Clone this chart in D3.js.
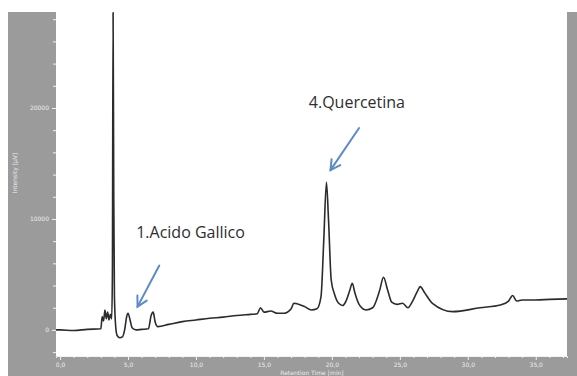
<!DOCTYPE html>
<html>
<head>
<meta charset="utf-8">
<script src="https://cdn.jsdelivr.net/npm/d3@7"></script>
<style>
  body { margin: 0; background: #fff; }
  svg { display: block; }
  .tick text { fill: #ececec; font-family: "DejaVu Sans", sans-serif; }
</style>
</head>
<body>
<svg id="chart" width="577" height="376"></svg>
<script>
// Chromatogram trace: retention time (min) and intensity (µV)
const times = [-0.3, 0, 1, 2, 3, 3.1, 3.2, 3.3, 3.4, 3.5, 3.6, 3.7, 3.8, 3.85, 3.9, 3.95, 4.0, 4.1, 4.2, 4.4, 4.6, 4.75,
    4.9, 5.0, 5.15, 5.3, 5.6, 6.0, 6.5, 6.7, 6.85, 7.0, 7.2, 8, 9, 10, 11, 12, 13, 14, 14.5, 14.75, 15, 15.5, 16,
    16.5, 17, 17.2, 17.6, 18.0, 18.5, 18.9, 19.2, 19.4, 19.6, 19.75, 19.95, 20.2, 20.5, 20.8, 21.0, 21.3, 21.5,
    21.7, 22.0, 22.5, 23.0, 23.5, 23.8, 24.1, 24.4, 24.8, 25.2, 25.6, 25.9, 26.3, 26.5, 26.8, 27.4, 28.9, 30.9,
    32.4, 33.0, 33.3, 33.6, 34.0, 35, 36, 37.3];
const intensity = [0, 0, -50, 50, 100, 1200, 800, 1800, 1000, 1600, 900, 1400, 1000, 5000, 28600, 12000, 3000, 200,
    -500, -700, -600, 0, 1200, 1500, 900, 200, 0, 50, 100, 1300, 1600, 700, 300, 500, 750, 900, 1050, 1150, 1300,
    1400, 1450, 2000, 1600, 1700, 1500, 1500, 1900, 2400, 2300, 2100, 1800, 1900, 3000, 8000, 13300, 10000, 4500,
    3200, 2400, 2200, 2500, 3500, 4200, 3300, 2300, 1800, 2000, 3500, 4750, 3600, 2500, 2300, 2400, 2000, 2500,
    3500, 3900, 3400, 2400, 1650, 2000, 2250, 2600, 3100, 2600, 2700, 2700, 2750, 2800];

const xMajor = [0, 5, 10, 15, 20, 25, 30, 35];
const yMajor = [0, 10000, 20000];

// Peak annotations: label and the point the arrow tip marks
const labels = ['1.Acido Gallico', '4.Quercetina'];
const labelTime = [5.6, 18.3];
const labelValue = [8300, 20000];
const arrowFrom = [[7.3, 5800], [22.0, 18200]];
const arrowTo = [[5.7, 2100], [19.9, 14400]];

const data = times.map((t, i) => ({ t, v: intensity[i] }));

const svg = d3.select('#chart');
const margin = { left: 56, top: 12, right: 10, bottom: 20 };
const W = 577, H = 376;

const x = d3.scaleLinear().domain([-0.3, 37.3]).range([margin.left, W - margin.right]);
const y = d3.scaleLinear().domain([-2350, 28650]).range([H - margin.bottom, margin.top]);

// Grey frame and white plot area
svg.append('rect').attr('x', 8).attr('y', 12).attr('width', W - 8).attr('height', H - 12).attr('fill', '#9b9b9b');
svg.append('rect').attr('x', margin.left).attr('y', margin.top)
    .attr('width', W - margin.right - margin.left).attr('height', H - margin.bottom - margin.top)
    .attr('fill', '#fff');

// Axes
const yMinor = d3.range(-2000, 28001, 2000).filter(v => !yMajor.includes(v));
svg.append('g').attr('transform', `translate(${margin.left},0)`)
    .call(d3.axisLeft(y).tickValues(yMinor).tickSize(3).tickFormat(''))
    .call(g => g.select('.domain').remove())
    .call(g => g.selectAll('line').attr('stroke', '#f2f2f2'));
svg.append('g').attr('transform', `translate(${margin.left},0)`)
    .call(d3.axisLeft(y).tickValues(yMajor).tickSize(4).tickPadding(3).tickFormat(d3.format('d')))
    .call(g => g.select('.domain').remove())
    .call(g => g.selectAll('line').attr('stroke', '#f2f2f2'))
    .call(g => g.selectAll('text').attr('font-size', 6));

const xMinor = d3.range(0, 38, 1).filter(v => !xMajor.includes(v));
svg.append('g').attr('transform', `translate(0,${H - margin.bottom})`)
    .call(d3.axisBottom(x).tickValues(xMinor).tickSize(2).tickFormat(''))
    .call(g => g.select('.domain').attr('stroke', '#f2f2f2'))
    .call(g => g.selectAll('line').attr('stroke', '#f2f2f2'));
svg.append('g').attr('transform', `translate(0,${H - margin.bottom})`)
    .call(d3.axisBottom(x).tickValues(xMajor).tickSize(4).tickPadding(3)
        .tickFormat(d => d3.format('.1f')(d).replace('.', ',')))
    .call(g => g.select('.domain').remove())
    .call(g => g.selectAll('line').attr('stroke', '#f2f2f2'))
    .call(g => g.selectAll('text').attr('font-size', 6));

// Axis titles
svg.append('text').attr('x', 312).attr('y', 375).attr('text-anchor', 'middle')
    .attr('font-family', 'DejaVu Sans, sans-serif').attr('font-size', 6).attr('fill', '#ececec')
    .text('Retention Time [min]');
svg.append('text').attr('transform', 'translate(17,173) rotate(-90)').attr('text-anchor', 'middle')
    .attr('font-family', 'DejaVu Sans, sans-serif').attr('font-size', 6).attr('fill', '#ececec')
    .text('Intensity [µV]');

// Trace
svg.append('defs').append('clipPath').attr('id', 'plot-clip')
    .append('rect').attr('x', margin.left).attr('y', margin.top)
    .attr('width', W - margin.right - margin.left).attr('height', H - margin.bottom - margin.top);

const line = d3.line().x(d => x(d.t)).y(d => y(d.v)).curve(d3.curveMonotoneX);
svg.append('path').datum(data)
    .attr('clip-path', 'url(#plot-clip)')
    .attr('d', line)
    .attr('fill', 'none').attr('stroke', '#2b2b2b').attr('stroke-width', 1.6)
    .attr('stroke-linejoin', 'round');

// Annotations
labels.forEach((txt, i) => {
    svg.append('text').attr('x', x(labelTime[i])).attr('y', y(labelValue[i]))
        .attr('font-family', 'Open Sans, sans-serif').attr('font-size', 16).attr('fill', '#2e2e2e')
        .text(txt);

    const [x1, y1] = [x(arrowFrom[i][0]), y(arrowFrom[i][1])];
    const [x2, y2] = [x(arrowTo[i][0]), y(arrowTo[i][1])];
    const ang = Math.atan2(y2 - y1, x2 - x1);
    const head = 11, spread = 0.5;
    const g = svg.append('g').attr('stroke', '#5b8bc8').attr('stroke-width', 2)
        .attr('fill', 'none').attr('stroke-linecap', 'round');
    g.append('line').attr('x1', x1).attr('y1', y1).attr('x2', x2).attr('y2', y2);
    g.append('polyline').attr('points', [
        [x2 - head * Math.cos(ang - spread), y2 - head * Math.sin(ang - spread)],
        [x2, y2],
        [x2 - head * Math.cos(ang + spread), y2 - head * Math.sin(ang + spread)]
    ].map(p => p.join(',')).join(' '));
});
</script>
</body>
</html>
